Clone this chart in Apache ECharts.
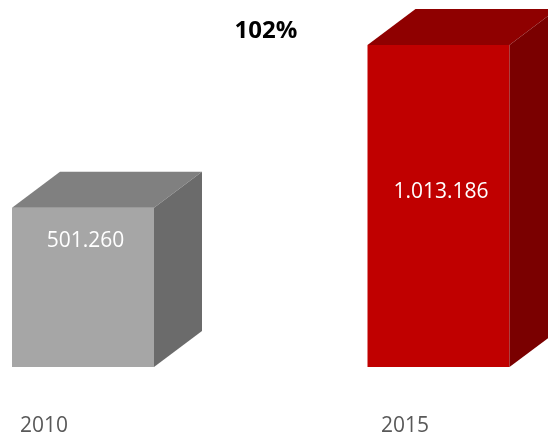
<!DOCTYPE html>
<html>
<head>
<meta charset="utf-8">
<script src="https://cdn.jsdelivr.net/npm/echarts@6/dist/echarts.min.js"></script>
<style>
  html, body { margin: 0; padding: 0; background: #fff; }
  #chart { width: 548px; height: 436px; }
</style>
</head>
<body>
<div id="chart"></div>
<script>
const years = ['2010', '2015']
const values = [501260, 1013186]
const valueLabels = ['501.260', '1.013.186']
const growthLabel = '102%'

// face colours per bar: front, top, side
const faces = [
  ['#a6a6a6', '#808080', '#6b6b6b'],
  ['#c00000', '#8f0000', '#7a0000']
]
// where the value label sits below the top of the front face
const labelDrop = [32, 146]

const FONT = '"Open Sans", sans-serif'
const halfWidth = 71
const depthX = 48
const depthY = 36

const chart = echarts.init(document.getElementById('chart'))

chart.setOption({
  animation: false,
  graphic: [{
    type: 'text',
    x: 266,
    y: 31,
    style: {
      text: growthLabel,
      fontFamily: FONT,
      fontSize: 24,
      fontWeight: 'bold',
      fill: '#000',
      align: 'center',
      verticalAlign: 'middle'
    }
  }],
  grid: { top: 0, bottom: 69, left: 83, right: 109.5, outerBoundsMode: 'none' },
  xAxis: {
    type: 'category',
    data: years,
    boundaryGap: false,
    axisLine: { show: false },
    axisTick: { show: false },
    splitLine: { show: false },
    axisLabel: {
      margin: 49,
      formatter: (v, i) => '{y' + i + '|' + v + '}',
      rich: {
        y0: { fontFamily: FONT, fontSize: 21, lineHeight: 21, color: '#595959', padding: [0, 78, 0, 0] },
        y1: { fontFamily: FONT, fontSize: 21, lineHeight: 21, color: '#595959', padding: [0, 67, 0, 0] }
      }
    }
  },
  yAxis: {
    type: 'value',
    min: 0,
    max: 1154760,
    show: false
  },
  series: [{
    type: 'custom',
    data: values.map((v, i) => [i, v]),
    renderItem(params, api) {
      const i = api.value(0)
      const top = api.coord([i, api.value(1)])
      const base = api.coord([i, 0])
      const x = top[0]
      const yt = top[1]
      const yb = base[1]
      const c = faces[params.dataIndex]
      return {
        type: 'group',
        children: [
          {
            type: 'rect',
            shape: { x: x - halfWidth, y: yt, width: halfWidth * 2, height: yb - yt },
            style: { fill: c[0] }
          },
          {
            type: 'polygon',
            shape: { points: [[x - halfWidth, yt], [x + halfWidth, yt], [x + halfWidth + depthX, yt - depthY], [x - halfWidth + depthX, yt - depthY]] },
            style: { fill: c[1] }
          },
          {
            type: 'polygon',
            shape: { points: [[x + halfWidth, yt], [x + halfWidth + depthX, yt - depthY], [x + halfWidth + depthX, yb - depthY], [x + halfWidth, yb]] },
            style: { fill: c[2] }
          },
          {
            type: 'text',
            x: x + 2.5,
            y: yt + labelDrop[params.dataIndex] + 1,
            style: {
              text: valueLabels[params.dataIndex],
              fill: '#fff',
              fontFamily: FONT,
              fontSize: 21,
              align: 'center',
              verticalAlign: 'middle'
            }
          }
        ]
      }
    }
  }]
})
</script>
</body>
</html>
